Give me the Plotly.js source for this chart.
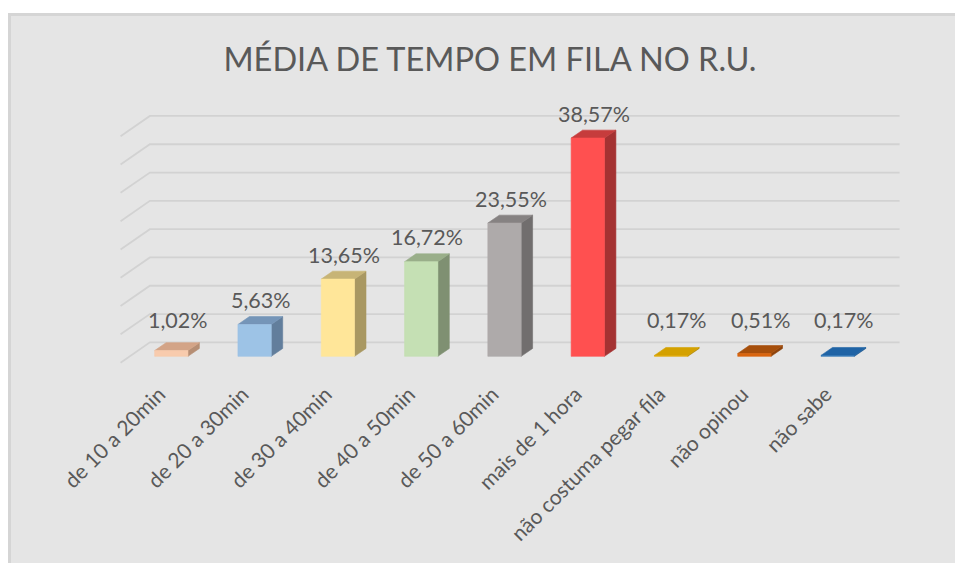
<!DOCTYPE html>
<html>
<head>
<meta charset="utf-8">
<script src="https://cdn.plot.ly/plotly-3.0.1.min.js"></script>
<style>
  html, body { margin: 0; padding: 0; background: #ffffff; }
  #panel { position: absolute; left: 8px; top: 13px; width: 944px; height: 547px;
           background: #e5e5e5; border-left: 3px solid #d5d5d5; border-top: 3px solid #d5d5d5; }
  #chart { position: absolute; left: 0; top: 0; width: 955px; height: 563px; }
</style>
</head>
<body>
<div id="panel"></div>
<div id="chart"></div>
<script>
// ---- data ----
const categories = ['de 10 a 20min', 'de 20 a 30min', 'de 30 a 40min', 'de 40 a 50min',
                    'de 50 a 60min', 'mais de 1 hora', 'não costuma pegar fila', 'não opinou', 'não sabe'];
const values = [1.02, 5.63, 13.65, 16.72, 23.55, 38.57, 0.17, 0.51, 0.17];
const gridTicks = [0, 5, 10, 15, 20, 25, 30, 35, 40];

// ---- styles ----
const frontColors = ['#F8CBAD', '#9DC3E6', '#FFE699', '#C5E0B4', '#AEAAAA', '#FF5050', '#E0A800', '#D9650F', '#2E75B6'];
const topColors   = ['#D3A487', '#7595B8', '#C7B476', '#99AE89', '#868282', '#C63C3C', '#D4A100', '#A64F0C', '#1F63A5'];
const sideColors  = ['#B68E74', '#627E9C', '#A99862', '#7F9072', '#716E6E', '#A43232', '#B08600', '#8E430B', '#1A5690'];
const TEXT = '#595959';
const FONT = 'Lato, "Open Sans", sans-serif';

// ---- oblique 3D geometry (axis units) ----
const FLOOR_X0 = -0.5, FLOOR_X1 = 8.5;
const DEPTH_DX = 0.352, DEPTH_DY = 3.587;   // full floor depth
const BAR_F0 = 0.31, BAR_F1 = 0.70;         // bar front/back depth fractions
const HALF_W = 0.2;

function proj(x, y, f) {
  return [x + (f - BAR_F0) * DEPTH_DX, y + (f - BAR_F0) * DEPTH_DY];
}
function poly(points, color) {
  const xs = [], ys = [];
  points.forEach(p => { const q = proj(p[0], p[1], p[2]); xs.push(q[0]); ys.push(q[1]); });
  xs.push(xs[0]); ys.push(ys[0]);
  return { type: 'scatter', mode: 'lines', x: xs, y: ys, fill: 'toself', fillcolor: color,
           line: { color: color, width: 0.6 }, hoverinfo: 'skip', showlegend: false };
}

const traces = [];
// gridlines: side wall + back wall
const gx = [], gy = [];
gridTicks.forEach(v => {
  [[FLOOR_X0, v, 0], [FLOOR_X0, v, 1], [FLOOR_X1, v, 1]].forEach(p => {
    const q = proj(p[0], p[1], p[2]); gx.push(q[0]); gy.push(q[1]);
  });
  gx.push(null); gy.push(null);
});
traces.push({ type: 'scatter', mode: 'lines', x: gx, y: gy, line: { color: '#d2d2d2', width: 1.8 },
              hoverinfo: 'skip', showlegend: false, connectgaps: false });

// bars
values.forEach((v, i) => {
  const l = i - HALF_W, r = i + HALF_W;
  traces.push(poly([[r, 0, BAR_F0], [r, 0, BAR_F1], [r, v, BAR_F1], [r, v, BAR_F0]], sideColors[i]));
  traces.push(poly([[l, v, BAR_F0], [r, v, BAR_F0], [r, v, BAR_F1], [l, v, BAR_F1]], topColors[i]));
  traces.push(poly([[l, 0, BAR_F0], [r, 0, BAR_F0], [r, v, BAR_F0], [l, v, BAR_F0]], frontColors[i]));
});

// data labels
const annotations = values.map((v, i) => ({
  x: i + 0.075, y: Math.max(v + 4.3, 6.5), xref: 'x', yref: 'y',
  text: v.toFixed(2).replace('.', ',') + '%', showarrow: false,
  xanchor: 'center', yanchor: 'middle',
  font: { family: FONT, size: 21.5, color: TEXT }
}));

const layout = {
  width: 955, height: 563,
  paper_bgcolor: 'rgba(0,0,0,0)', plot_bgcolor: 'rgba(0,0,0,0)',
  margin: { l: 88, r: 34, t: 96, b: 184 },
  showlegend: false,
  title: { text: 'MÉDIA DE TEMPO EM FILA NO R.U.', font: { family: FONT, size: 32.5, color: TEXT },
           x: 0.513, xref: 'container', xanchor: 'center', y: 1 - 60 / 563, yref: 'container', yanchor: 'middle' },
  xaxis: { range: [-1, 9], showgrid: false, zeroline: false, showline: false, ticks: '',
           tickvals: categories.map((c, i) => i), ticktext: categories, tickangle: -45,
           ticklabelshift: -12, ticklabelstandoff: -2,
           tickfont: { family: FONT, size: 21, color: TEXT }, automargin: false, fixedrange: true },
  yaxis: { range: [-4, 46], visible: false, fixedrange: true },
  annotations: annotations
};

Plotly.newPlot('chart', traces, layout, { displayModeBar: false, staticPlot: true });
</script>
</body>
</html>
